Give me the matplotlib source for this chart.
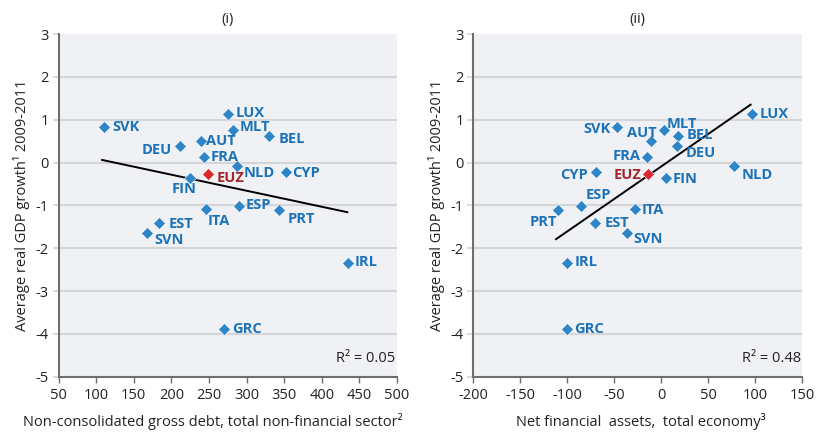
import matplotlib
matplotlib.use("Agg")
import matplotlib.pyplot as plt

# ---- data ----
countries = ["SVK", "LUX", "MLT", "BEL", "DEU", "AUT", "FRA", "NLD", "CYP",
             "EUZ", "FIN", "ITA", "ESP", "PRT", "EST", "SVN", "IRL", "GRC"]
growth = [0.82, 1.13, 0.76, 0.61, 0.39, 0.50, 0.12, -0.09, -0.22,
          -0.27, -0.36, -1.08, -1.02, -1.10, -1.41, -1.65, -2.35, -3.88]
gross_debt = [110, 275, 282, 330, 212, 239, 243, 287, 352,
              249, 225, 246, 290, 343, 184, 168, 435, 270]
net_fin_assets = [-47, 96, 3, 18, 17, -11, -15, 77, -69,
                  -14, 5, -28, -85, -110, -71, -36, -100, -100]
fit1_x = [108, 434]
fit1_y = [0.06, -1.16]
fit2_x = [-112, 95]
fit2_y = [-1.79, 1.35]
r2_labels = ["R² = 0.05", "R² = 0.48"]
titles = ["(i)", "(ii)"]
xlabels = ["Non-consolidated gross debt, total non-financial sector²",
           "Net financial  assets,  total economy³"]
ylabel = "Average real GDP growth¹ 2009-2011"
xticks1 = list(range(50, 501, 50))
xticks2 = list(range(-200, 151, 50))
yticks = list(range(-5, 4))

# ---- label placement (offsets in points, alignment) ----
off1 = {"SVK": (6, 0, "left"), "LUX": (6, 1, "left"), "MLT": (5, 2, "left"),
        "BEL": (7, -2, "left"), "DEU": (-6, -3, "right"), "AUT": (4, 0, "left"),
        "FRA": (5, 0, "left"), "NLD": (5, -5, "left"), "CYP": (5, -1, "left"),
        "EUZ": (6, -3, "left"), "FIN": (-4, -8, "center"), "ITA": (1, -9, "left"),
        "ESP": (5, 1, "left"), "PRT": (6, -7, "left"), "EST": (7, -1, "left"),
        "SVN": (5, -5, "left"), "IRL": (5, 1, "left"), "GRC": (6, 0, "left")}
off2 = {"SVK": (-5, -1, "right"), "LUX": (6, 0, "left"), "MLT": (2, 4, "left"),
        "BEL": (6, 1, "left"), "DEU": (6, -5, "left"), "AUT": (4, 6, "right"),
        "FRA": (-5, 1, "right"), "NLD": (6, -6, "left"), "CYP": (-6, -2, "right"),
        "EUZ": (-5, -1, "right"), "FIN": (5, -1, "left"), "ITA": (5, -1, "left"),
        "ESP": (3, 8, "left"), "PRT": (-1, -9, "right"), "EST": (7, 0, "left"),
        "SVN": (4, -4, "left"), "IRL": (5, 1, "left"), "GRC": (5, 0, "left")}

plt.rcParams["font.family"] = ["Open Sans", "DejaVu Sans"]

BLUE = "#2E86C8"
BLUE_TXT = "#1C72B8"
RED = "#D9282F"
RED_TXT = "#A5242A"
BG = "#F0F1F4"
GRID = "#D4D5D8"
SPINE = "#6E6E6E"

fig = plt.figure(figsize=(8.19, 4.32), dpi=100)
ax1 = fig.add_axes([58.5 / 819, 1 - 376.7 / 432, 338.5 / 819, 342.7 / 432])
ax2 = fig.add_axes([473.3 / 819, 1 - 376.7 / 432, 329.0 / 819, 342.7 / 432])


def draw(ax, xs, fitx, fity, offs, xticks, xlim, r2, title, xlabel):
    ax.set_facecolor(BG)
    ax.set_xlim(*xlim)
    ax.set_ylim(-5, 3)
    ax.set_yticks(yticks)
    ax.set_yticklabels([str(v) for v in yticks])
    ax.set_xticks(xticks)
    ax.set_xticklabels([str(v) for v in xticks])
    for y in yticks[1:-1]:
        ax.axhline(y, color=GRID, lw=1.5, zorder=1)
    for s in ["top", "right"]:
        ax.spines[s].set_visible(False)
    for s in ["left", "bottom"]:
        ax.spines[s].set_color(SPINE)
        ax.spines[s].set_linewidth(1.5)
    ax.tick_params(axis="y", direction="out", length=4, width=1.2,
                   color=GRID, labelsize=10.5, pad=3, labelcolor="#222222")
    ax.tick_params(axis="x", direction="out", length=4, width=1.0,
                   color=SPINE, labelsize=10.5, pad=4, labelcolor="#222222")
    ax.plot(fitx, fity, color="black", lw=1.4, zorder=3)
    for c, x, y in zip(countries, xs, growth):
        col = RED if c == "EUZ" else BLUE
        tcol = RED_TXT if c == "EUZ" else BLUE_TXT
        ax.plot([x], [y], marker="D", ms=6.2, color=col, mec="white",
                mew=0.4, ls="none", zorder=4)
        dx, dy, ha = offs[c]
        ax.annotate(c, (x, y), xytext=(dx, dy), textcoords="offset points",
                    ha=ha, va="center", fontsize=10.5, fontweight="bold",
                    color=tcol, zorder=5)
    ax.text(0.995, 0.03, r2, transform=ax.transAxes, ha="right", va="bottom",
            fontsize=10.5, color="#222222")
    ax.set_title(title, fontsize=10.5, pad=8, color="#222222")
    ax.set_ylabel(ylabel, fontsize=10.5, color="#222222", labelpad=4)
    ax.set_xlabel(xlabel, fontsize=10.5, color="#222222")


draw(ax1, gross_debt, fit1_x, fit1_y, off1, xticks1, (50, 500),
     r2_labels[0], titles[0], xlabels[0])
draw(ax2, net_fin_assets, fit2_x, fit2_y, off2, xticks2, (-200, 150),
     r2_labels[1], titles[1], xlabels[1])
ax1.xaxis.set_label_coords(0.455, -0.105)
ax2.xaxis.set_label_coords(0.51, -0.105)

fig.savefig("out.png", dpi=100, facecolor="white")
